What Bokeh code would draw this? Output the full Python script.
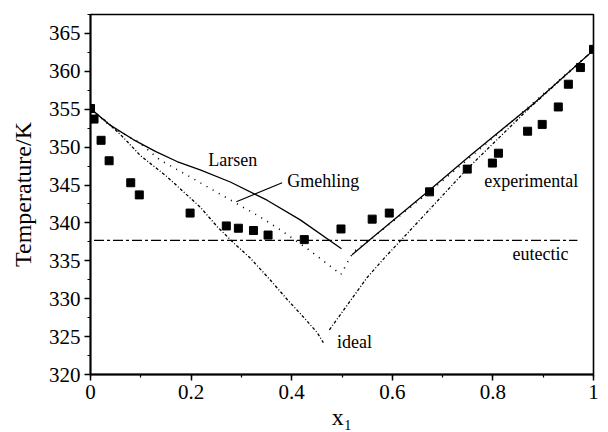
from bokeh.plotting import figure
from bokeh.models import Range1d, SingleIntervalTicker
from bokeh.core.properties import value
from bokeh.embed import file_html
from bokeh.resources import INLINE

# experimental points
exp_x = [0.0, 0.007, 0.021, 0.037, 0.080, 0.097, 0.198, 0.270, 0.294, 0.324, 0.353,
         0.425, 0.498, 0.560, 0.594, 0.674, 0.749, 0.799, 0.811, 0.869, 0.898, 0.930,
         0.950, 0.974, 1.0]
exp_y = [355.1, 353.7, 350.9, 348.2, 345.3, 343.7, 341.3, 339.6, 339.3, 339.0, 338.4,
         337.8, 339.2, 340.5, 341.3, 344.1, 347.1, 347.9, 349.2, 352.1, 353.0, 355.3,
         358.3, 360.5, 362.9]

# Larsen model
lar_lx = [0.0, 0.039, 0.085, 0.13, 0.172, 0.218, 0.278, 0.351, 0.417, 0.499]
lar_ly = [355.1, 352.9, 351.0, 349.4, 348.1, 347.0, 345.4, 343.0, 340.4, 336.6]
lar_rx = [0.52, 0.556, 0.672, 0.755, 0.88, 1.0]
lar_ry = [335.8, 337.8, 344.2, 348.9, 355.7, 362.8]

# Gmehling model
gme_lx = [0.0, 0.045, 0.095, 0.138, 0.192, 0.234, 0.284, 0.337, 0.377, 0.431, 0.453, 0.498]
gme_ly = [355.0, 352.5, 350.7, 348.3, 346.3, 344.7, 342.8, 340.8, 339.1, 336.6, 335.5, 333.2]
gme_rx = [0.498, 0.51, 0.523, 0.56, 0.672, 0.8, 1.0]
gme_ry = [333.2, 334.7, 336.2, 338.0, 344.0, 351.2, 362.8]

# ideal solubility
ide_lx = [0.0, 0.035, 0.065, 0.099, 0.152, 0.218, 0.252, 0.284, 0.317, 0.357, 0.391,
          0.423, 0.451, 0.463]
ide_ly = [355.0, 353.2, 351.3, 348.9, 346.1, 342.1, 339.5, 337.4, 335.4, 332.5, 329.9,
          327.6, 325.5, 324.2]
ide_rx = [0.475, 0.55, 0.586, 0.617, 0.75, 0.87, 1.0]
ide_ry = [325.9, 332.8, 335.5, 337.7, 347.2, 355.0, 362.8]

# eutectic temperature
eut_x = [0.007, 0.968]
eut_y = [337.7, 337.7]

# annotations
lab_text = ["Larsen", "Gmehling", "ideal", "experimental", "eutectic"]
lab_x = [0.234, 0.391, 0.490, 0.783, 0.839]
lab_y = [348.3, 345.5, 324.3, 345.5, 335.9]
lead_x = [0.290, 0.381]
lead_y = [342.8, 345.3]

FONT = "'Liberation Serif', 'Times New Roman', serif"

p = figure(width=608, height=432, output_backend="svg", toolbar_location=None,
           x_range=Range1d(0, 1), y_range=Range1d(320, 367.5),
           min_border_left=90, min_border_right=15, min_border_top=14,
           min_border_bottom=57)
p.background_fill_color = "white"
p.border_fill_color = "white"
p.outline_line_color = "black"
p.outline_line_width = 1.6
p.xgrid.visible = False
p.ygrid.visible = False

p.xaxis.ticker = SingleIntervalTicker(interval=0.2, num_minor_ticks=2)
p.yaxis.ticker = SingleIntervalTicker(interval=5, num_minor_ticks=2)
p.xaxis.axis_label = "x₁"
p.yaxis.axis_label = "Temperature/K"
for ax in (p.xaxis, p.yaxis):
    ax.axis_line_width = 1.8
    ax.axis_line_color = "black"
    ax.major_tick_line_width = 1.5
    ax.minor_tick_line_width = 1.2
    ax.major_tick_out = 6
    ax.major_tick_in = 0
    ax.minor_tick_out = 3
    ax.minor_tick_in = 0
    ax.major_label_text_font = FONT
    ax.major_label_text_font_size = "21px"
    ax.major_label_text_color = "#000000"
    ax.axis_label_text_font = FONT
    ax.axis_label_text_font_size = "24px"
    ax.axis_label_text_font_style = "normal"
    ax.axis_label_text_color = "#000000"
p.xaxis.formatter.use_scientific = False
p.xaxis.major_label_standoff = 4
p.xaxis.axis_label_standoff = 2
p.yaxis.major_label_standoff = 4
p.yaxis.axis_label_standoff = 10

p.line(eut_x, eut_y, line_color="black", line_width=1.3, line_dash="10 3 3 3")
p.line(lar_lx, lar_ly, line_color="black", line_width=1.3)
p.line(lar_rx, lar_ry, line_color="black", line_width=1.3)
p.line(gme_lx, gme_ly, line_color="black", line_width=1.6, line_dash="1 6")
p.line(gme_rx, gme_ry, line_color="black", line_width=1.6, line_dash="1 6")
p.line(ide_lx, ide_ly, line_color="black", line_width=1.3, line_dash="3 2 1 2")
p.line(ide_rx, ide_ry, line_color="black", line_width=1.3, line_dash="3 2 1 2")
p.scatter(exp_x, exp_y, marker="square", size=8, color="black")
p.line(lead_x, lead_y, line_color="black", line_width=1.2)

p.text(x=lab_x, y=lab_y, text=lab_text, text_font=value(FONT),
       text_font_size="18px", text_align="left", text_baseline="middle",
       text_color="#000000")

open("out.html", "w").write(file_html(p, INLINE))
